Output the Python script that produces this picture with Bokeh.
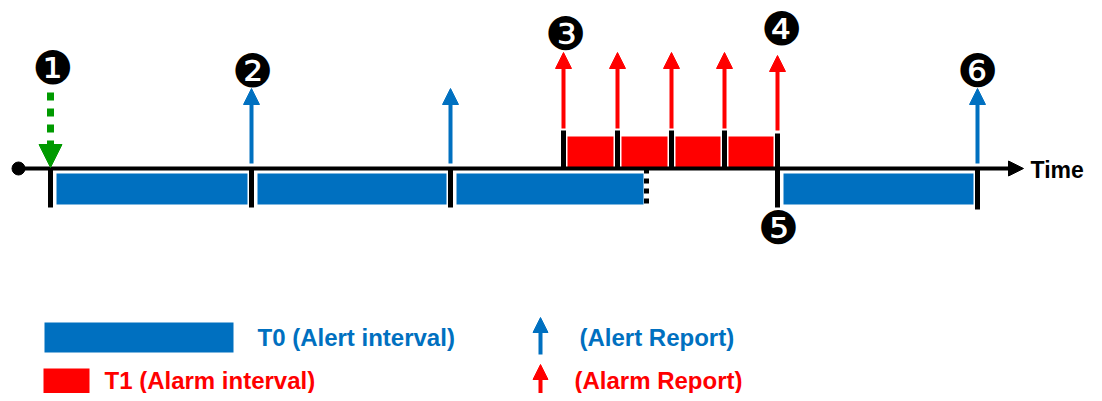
from bokeh.plotting import figure
from bokeh.models import Range1d, Arrow, NormalHead, ColumnDataSource
from bokeh.core.properties import value
from bokeh.embed import file_html
from bokeh.resources import INLINE

# ---- data (time positions) ----
alert_starts = [50, 251, 450, 777]
alert_ends = [251, 450, 646, 977]
alarm_bounds = [563, 617, 671, 724, 777]
alert_report_times = [251, 450, 977]
event_labels = ["❶", "❷", "❸", "❹", "❺", "❻"]
event_x = [52, 252, 565, 781, 778, 977]
event_y = [67, 70, 33, 28, 227, 70]
legend_texts = ["T0 (Alert interval)", "T1 (Alarm interval)", "(Alert Report)", "(Alarm Report)"]

BLUE = "#0070C0"
RED = "#FF0000"
GREEN = "#009A00"
FONT = "Liberation Sans"

TL_Y = 168
p = figure(width=1094, height=393, x_range=Range1d(0, 1094), y_range=Range1d(393, 0),
           x_axis_type=None, y_axis_type=None, toolbar_location=None,
           output_backend="svg", min_border=0, outline_line_color=None,
           background_fill_color="white", border_fill_color="white")

# blue alert interval bars
bl = [s + 6 for s in alert_starts]
br = [e - 4 for e in alert_ends]
br[2] = alert_ends[2] - 3
p.quad(left=bl, right=br, top=[173] * 4, bottom=[204] * 4, fill_color=BLUE, line_color=None)

# red alarm interval bars
rl = [b + 4 for b in alarm_bounds[:-1]]
rr = [b - 4 for b in alarm_bounds[1:]]
p.quad(left=rl, right=rr, top=[136] * 4, bottom=[TL_Y] * 4, fill_color=RED, line_color=None)

# timeline
tl = Arrow(end=NormalHead(size=15, fill_color="black", line_color="black"),
           x_start=17, y_start=TL_Y, x_end=1023, y_end=TL_Y, line_color="black", line_width=4)
p.add_layout(tl)
p.scatter([18], [TL_Y], size=13, color="black")

# ticks below the timeline (alert boundaries)
tick_x = [alert_starts[0], alert_starts[1], alert_starts[2], alarm_bounds[-1], alert_ends[-1]]
tick_top = [TL_Y, TL_Y, TL_Y, 133, TL_Y]
tick_bot = [207, 207, 207, 207, 209]
p.segment(x0=tick_x, y0=tick_top, x1=tick_x, y1=tick_bot, line_color="black", line_width=5)
# red interval ticks above
p.segment(x0=alarm_bounds[:-1], y0=[130] * 4, x1=alarm_bounds[:-1], y1=[TL_Y] * 4,
          line_color="black", line_width=5)
# dotted end of interrupted alert interval
p.segment(x0=[alert_ends[2]], y0=[TL_Y], x1=[alert_ends[2]], y1=[207],
          line_color="black", line_width=5, line_dash="5 5")

# alert reports (blue arrows)
bsrc = ColumnDataSource(dict(x=alert_report_times, y0=[163] * 3, y1=[88] * 3))
p.add_layout(Arrow(end=NormalHead(size=16, fill_color=BLUE, line_color=BLUE),
                   x_start="x", y_start="y0", x_end="x", y_end="y1", source=bsrc,
                   line_color=BLUE, line_width=4))
# alarm reports (red arrows)
rsrc = ColumnDataSource(dict(x=alarm_bounds, y0=[128, 128, 128, 128, 130], y1=[52, 52, 52, 52, 55]))
p.add_layout(Arrow(end=NormalHead(size=16, fill_color=RED, line_color=RED),
                   x_start="x", y_start="y0", x_end="x", y_end="y1", source=rsrc,
                   line_color=RED, line_width=4))
# green dashed trigger arrow
p.add_layout(Arrow(end=NormalHead(size=23, fill_color=GREEN, line_color=GREEN),
                   x_start=alert_starts[0], y_start=92, x_end=alert_starts[0], y_end=167,
                   line_color=GREEN, line_width=7, line_dash="8 8"))

# numbered event markers
p.text(x=event_x, y=event_y, text=event_labels, text_font=value("DejaVu Sans"),
       text_font_size="46px", text_align="center", text_baseline="middle", text_color="black")

# Time label
p.text(x=[1030], y=[TL_Y + 1], text=["Time"], text_font=value(FONT), text_font_style="bold",
       text_font_size="23px", text_align="left", text_baseline="middle", text_color="black")

# legend
p.quad(left=[44], right=[233], top=[322], bottom=[352], fill_color=BLUE, line_color=None)
p.quad(left=[43], right=[89], top=[368], bottom=[393], fill_color=RED, line_color=None)
p.text(x=[257, 104], y=[337, 380], text=legend_texts[:2], text_font=value(FONT),
       text_font_style="bold", text_font_size="24px", text_align="left", text_baseline="middle",
       text_color=[BLUE, RED])
p.text(x=[579, 574], y=[337, 380], text=legend_texts[2:], text_font=value(FONT),
       text_font_style="bold", text_font_size="24px", text_align="left", text_baseline="middle",
       text_color=[BLUE, RED])
lsrc = ColumnDataSource(dict(x=[540], y0=[354], y1=[317]))
p.add_layout(Arrow(end=NormalHead(size=15, fill_color=BLUE, line_color=BLUE),
                   x_start="x", y_start="y0", x_end="x", y_end="y1", source=lsrc,
                   line_color=BLUE, line_width=4))
lsrc2 = ColumnDataSource(dict(x=[540], y0=[393], y1=[364]))
p.add_layout(Arrow(end=NormalHead(size=15, fill_color=RED, line_color=RED),
                   x_start="x", y_start="y0", x_end="x", y_end="y1", source=lsrc2,
                   line_color=RED, line_width=4))

open("out.html", "w").write(file_html(p, INLINE))
